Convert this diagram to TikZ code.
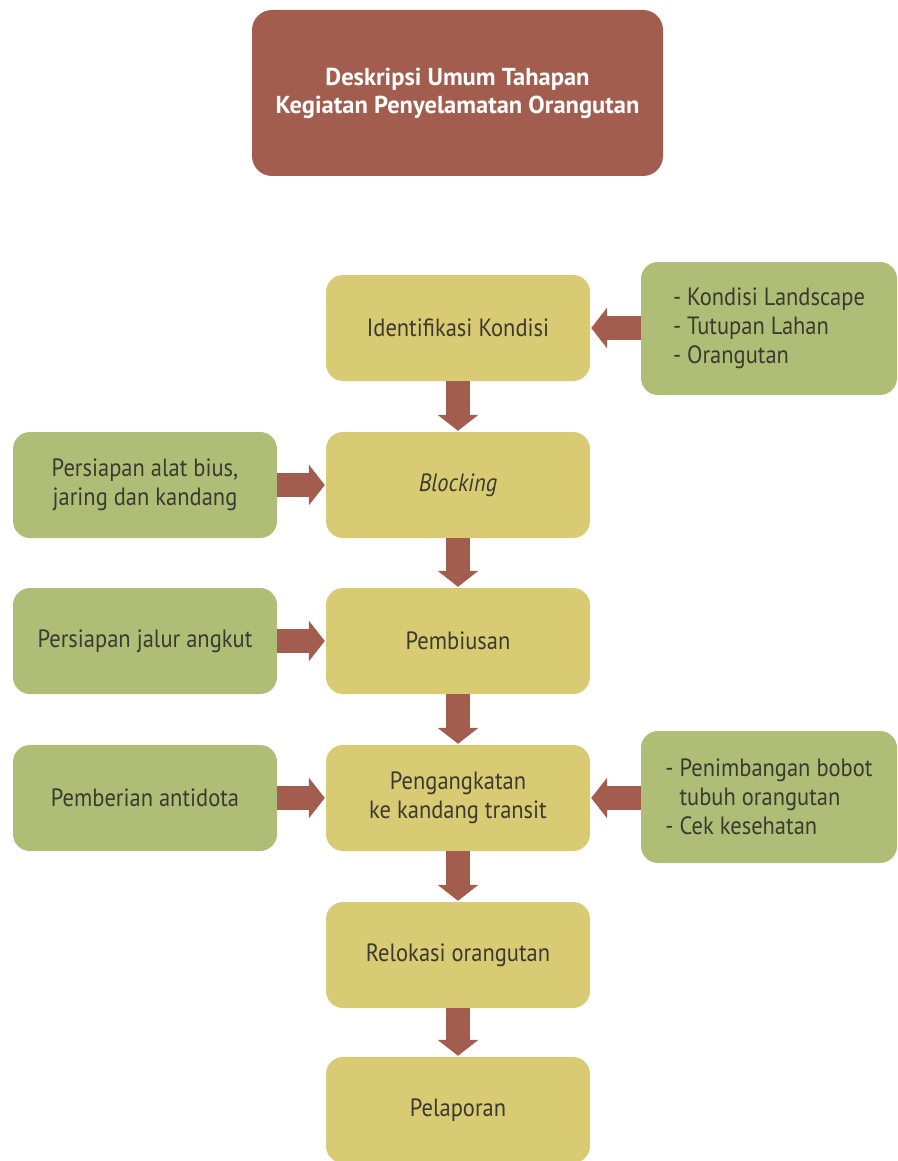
\documentclass[tikz,border=0pt]{standalone}
\usepackage{fontspec}
\setmainfont{PT Sans}
\newfontfamily\bodyfont[FakeStretch=0.9]{PT Sans}
\usetikzlibrary{arrows.meta}
\definecolor{brownc}{HTML}{A35D4E}
\definecolor{yellowc}{HTML}{D8CB74}
\definecolor{greenc}{HTML}{B0BD76}
\definecolor{textc}{HTML}{3A3A30}
\tikzset{
  titlebox/.style={fill=brownc, rounded corners=20pt, minimum width=411pt, minimum height=166pt, text=white, font=\fontsize{24.5}{28}\selectfont\bfseries, align=center, inner sep=0pt},
  stepbox/.style={fill=yellowc, rounded corners=17pt, minimum width=264pt, minimum height=106pt, text=textc, font=\bodyfont\fontsize{25}{29}\selectfont, align=center, inner sep=0pt},
  sidebox/.style={fill=greenc, rounded corners=17pt, minimum width=264pt, minimum height=106pt, text=textc, font=\bodyfont\fontsize{25}{29}\selectfont, align=center, inner sep=0pt},
  rightbox/.style={sidebox, minimum width=256pt, minimum height=133pt, align=left},
  blockarrow/.style={draw=brownc, line width=24pt, -{Triangle[width=40pt,length=16pt,fill=brownc]}, shorten >=1pt}
}
\begin{document}
\begin{tikzpicture}[x=1pt,y=-1pt]
\useasboundingbox (0,0) rectangle (897,1161);
\node[titlebox] (title) at (457.5,93) {Deskripsi Umum Tahapan\\Kegiatan Penyelamatan Orangutan};

\node[stepbox] (s1) at (458,328) {Identifikasi Kondisi};
\node[stepbox] (s2) at (458,485) {\itshape Blocking};
\node[stepbox] (s3) at (458,641) {Pembiusan};
\node[stepbox] (s4) at (458,798) {Pengangkatan\\ke kandang transit};
\node[stepbox] (s5) at (458,955) {Relokasi orangutan};
\node[stepbox] (s6) at (458,1110) {Pelaporan};

\node[rightbox] (r1) at (769,328.5) {- Kondisi Landscape\\- Tutupan Lahan\\- Orangutan};
\node[rightbox, minimum height=132pt] (r2) at (769,797) {- Penimbangan bobot\\\hphantom{-} tubuh orangutan\\- Cek kesehatan};

\node[sidebox] (l1) at (145,485) {Persiapan alat bius,\\jaring dan kandang};
\node[sidebox] (l2) at (145,641) {Persiapan jalur angkut};
\node[sidebox] (l3) at (145,798) {Pemberian antidota};

\draw[blockarrow] (s1.south) -- (s2.north);
\draw[blockarrow] (s2.south) -- (s3.north);
\draw[blockarrow] (s3.south) -- (s4.north);
\draw[blockarrow] (s4.south) -- (s5.north);
\draw[blockarrow] (s5.south) -- (s6.north);

\draw[blockarrow] (r1.west |- s1.east) -- (s1.east);
\draw[blockarrow] (r2.west |- s4.east) -- (s4.east);
\draw[blockarrow] (l1.east) -- (s2.west);
\draw[blockarrow] (l2.east) -- (s3.west);
\draw[blockarrow] (l3.east) -- (s4.west);
\end{tikzpicture}
\end{document}
